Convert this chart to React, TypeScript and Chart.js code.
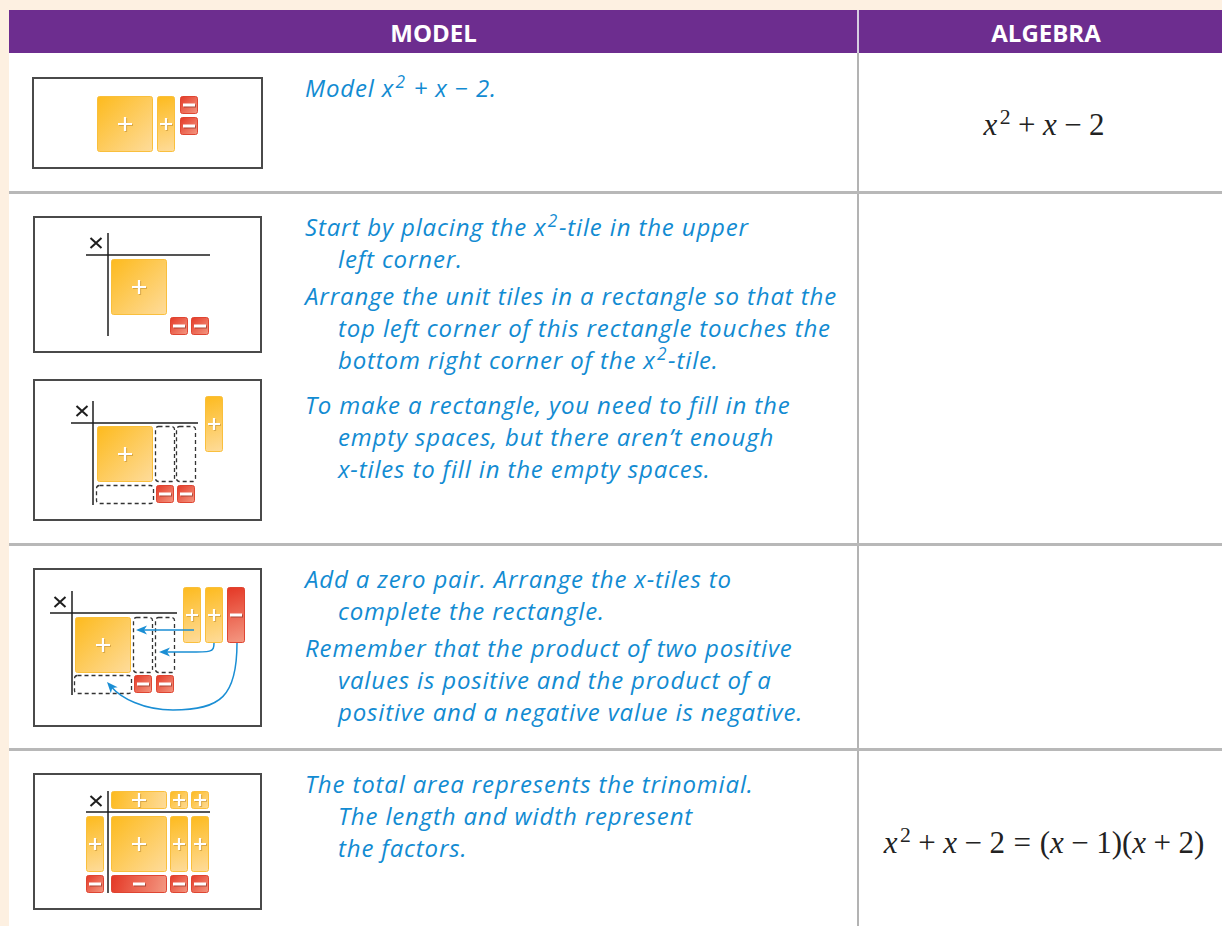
import React, { useEffect, useRef } from "react";
import { Chart, registerables } from "chart.js";

Chart.register(...registerables);

// ---------- DATA ----------
const COLUMN_HEADERS = ["MODEL", "ALGEBRA"];

const STEP_PARAGRAPHS: string[][] = [
  ["Model x^2 + x − 2."],
  ["Start by placing the x^2-tile in the upper", "left corner."],
  [
    "Arrange the unit tiles in a rectangle so that the",
    "top left corner of this rectangle touches the",
    "bottom right corner of the x^2-tile.",
  ],
  [
    "To make a rectangle, you need to fill in the",
    "empty spaces, but there aren’t enough",
    "x-tiles to fill in the empty spaces.",
  ],
  ["Add a zero pair. Arrange the x-tiles to", "complete the rectangle."],
  [
    "Remember that the product of two positive",
    "values is positive and the product of a",
    "positive and a negative value is negative.",
  ],
  [
    "The total area represents the trinomial.",
    "The length and width represent",
    "the factors.",
  ],
];

const ALGEBRA_ROW_1 = ["x", "^2", "+", "x", "−", "2"];
const ALGEBRA_ROW_4 = ["x", "^2", "+", "x", "−", "2", "=", "(", "x", "−", "1", ")", "(", "x", "+", "2", ")"];

// tiles: [kind, sign, left, top]  (kind: X2 = x², XV = vertical x, XH = horizontal x, U = unit)
type Tile = [string, number, number, number];
const MODEL_1_TILES: Tile[] = [["X2", 1, 65, 19], ["XV", 1, 125, 19], ["U", -1, 148, 19], ["U", -1, 148, 40]];
const MODEL_2_TILES: Tile[] = [["X2", 1, 78, 43], ["U", -1, 137, 101], ["U", -1, 158, 101]];
const MODEL_3_TILES: Tile[] = [["X2", 1, 64, 47], ["U", -1, 123, 106], ["U", -1, 144, 106], ["XV", 1, 172, 17]];
const MODEL_4_TILES: Tile[] = [
  ["X2", 1, 42, 49], ["U", -1, 101, 107], ["U", -1, 123, 107],
  ["XV", 1, 150, 19], ["XV", 1, 172, 19], ["XV", -1, 194, 19],
];
const MODEL_5_TILES: Tile[] = [
  ["XH", 1, 78, 18], ["U", 1, 137, 18], ["U", 1, 158, 18],
  ["XV", 1, 53, 43], ["X2", 1, 78, 43], ["XV", 1, 137, 43], ["XV", 1, 158, 43],
  ["U", -1, 53, 102], ["XH", -1, 78, 102], ["U", -1, 137, 102], ["U", -1, 158, 102],
];

// dashed empty slots: [kind, left, top]
type Slot = [string, number, number];
const MODEL_3_SLOTS: Slot[] = [["SV", 122, 47], ["SV", 143, 47], ["SH", 63, 106]];
const MODEL_4_SLOTS: Slot[] = [["SV", 100, 49], ["SV", 122, 49], ["SH", 41, 107]];

// product mat: [crossX, crossY, verticalX, vTop, vBottom, horizontalY, hLeft, hRight]
const MAT_2 = [63, 27, 75, 17, 120, 39, 53, 177];
const MAT_3 = [49, 32, 60, 22, 126, 44, 38, 165];
const MAT_4 = [27, 34, 39, 23, 127, 45, 17, 144];
const MAT_5 = [63, 28, 75, 18, 120, 39, 53, 177];

// arrows (point chains: 2 points = line, otherwise cubic bezier chain)
const MODEL_4_ARROWS: number[][][] = [
  [[161, 62], [103, 62]],
  [[181, 75], [181, 86], [178, 84], [126, 84]],
  [[204, 75], [204, 128], [188, 142], [140, 142], [110, 142], [88, 130], [74, 114]],
];

// ---------- LAYOUT / STYLE ----------
const TILE_SIZE: Record<string, [number, number]> = {
  X2: [56, 56], XV: [18, 56], XH: [56, 18], U: [18, 18], SV: [20, 56], SH: [58, 19],
};
const PARA_BASELINES = [97, 236, 305, 414, 588, 657, 793];
const LINE_STEP = 32;
const TEXT_LEFT = 305;
const TEXT_INDENT = 33;
const BLUE = "#128bd2";
const TEXT_SIZE = 24;

const BOXES = [
  { left: 32, top: 77, width: 231, height: 92, tiles: MODEL_1_TILES, slots: [] as Slot[], mat: null as number[] | null, arrows: [] as number[][][] },
  { left: 33, top: 216, width: 229, height: 137, tiles: MODEL_2_TILES, slots: [] as Slot[], mat: MAT_2, arrows: [] as number[][][] },
  { left: 33, top: 379, width: 229, height: 142, tiles: MODEL_3_TILES, slots: MODEL_3_SLOTS, mat: MAT_3, arrows: [] as number[][][] },
  { left: 33, top: 568, width: 229, height: 159, tiles: MODEL_4_TILES, slots: MODEL_4_SLOTS, mat: MAT_4, arrows: MODEL_4_ARROWS },
  { left: 33, top: 773, width: 229, height: 137, tiles: MODEL_5_TILES, slots: [] as Slot[], mat: MAT_5, arrows: [] as number[][][] },
];

type Box = (typeof BOXES)[number];

function makeTilePlugin(box: Box) {
  return {
    id: "algebraTiles",
    afterDatasetsDraw(chart: any) {
      const ctx: CanvasRenderingContext2D = chart.ctx;
      const sx = chart.scales.x;
      const sy = chart.scales.y;
      const px = (v: number) => sx.getPixelForValue(v);
      const py = (v: number) => sy.getPixelForValue(v);
      ctx.save();

      // frame
      ctx.strokeStyle = "#4a4a4a";
      ctx.lineWidth = 2;
      ctx.strokeRect(px(0) + 1, py(0) + 1, px(box.width) - px(0) - 2, py(box.height) - py(0) - 2);

      // product mat
      if (box.mat) {
        const [cx, cy, vx, vt, vb, hy, hl, hr] = box.mat;
        ctx.strokeStyle = "#1e1e1e";
        ctx.lineWidth = 1.5;
        ctx.beginPath();
        ctx.moveTo(px(vx), py(vt));
        ctx.lineTo(px(vx), py(vb));
        ctx.moveTo(px(hl), py(hy));
        ctx.lineTo(px(hr), py(hy));
        ctx.stroke();
        ctx.lineWidth = 2;
        ctx.beginPath();
        ctx.moveTo(px(cx - 5.5), py(cy - 5));
        ctx.lineTo(px(cx + 5.5), py(cy + 5));
        ctx.moveTo(px(cx + 5.5), py(cy - 5));
        ctx.lineTo(px(cx - 5.5), py(cy + 5));
        ctx.stroke();
      }

      // dashed slots
      for (const [kind, l, t] of box.slots) {
        const [w, h] = TILE_SIZE[kind];
        ctx.setLineDash([4, 3]);
        ctx.strokeStyle = "#333";
        ctx.lineWidth = 1.3;
        ctx.beginPath();
        ctx.roundRect(px(l) + 0.5, py(t) + 0.5, px(l + w) - px(l) - 1, py(t + h) - py(t) - 1, 3);
        ctx.stroke();
        ctx.setLineDash([]);
      }

      // tiles
      for (const [kind, sign, l, t] of box.tiles) {
        const [w, h] = TILE_SIZE[kind];
        const x0 = px(l), y0 = py(t), x1 = px(l + w), y1 = py(t + h);
        const g = ctx.createLinearGradient(x0, y0, x1, y1);
        if (sign > 0) {
          g.addColorStop(0, "#fdba1c");
          g.addColorStop(1, "#fedc9c");
        } else {
          g.addColorStop(0, "#e43624");
          g.addColorStop(1, "#f49a84");
        }
        ctx.beginPath();
        ctx.roundRect(x0 + 0.5, y0 + 0.5, x1 - x0 - 1, y1 - y0 - 1, 2);
        ctx.fillStyle = g;
        ctx.fill();
        ctx.lineWidth = 1;
        ctx.strokeStyle = sign > 0 ? "rgba(250,190,55,0.95)" : "rgba(222,64,44,0.95)";
        ctx.stroke();

        const cx = (x0 + x1) / 2;
        const cy = (y0 + y1) / 2;
        const drawSign = (dx: number, dy: number, color: string) => {
          ctx.strokeStyle = color;
          ctx.lineCap = "butt";
          if (sign > 0) {
            const a = kind === "X2" || kind === "XH" ? 7 : 6;
            ctx.lineWidth = 2.2;
            ctx.beginPath();
            ctx.moveTo(cx - a + dx, cy + dy);
            ctx.lineTo(cx + a + dx, cy + dy);
            ctx.moveTo(cx + dx, cy - a + dy);
            ctx.lineTo(cx + dx, cy + a + dy);
            ctx.stroke();
          } else {
            const a = 6;
            ctx.lineWidth = 3;
            ctx.beginPath();
            ctx.moveTo(cx - a + dx, cy + dy);
            ctx.lineTo(cx + a + dx, cy + dy);
            ctx.stroke();
          }
        };
        drawSign(1, 1, sign > 0 ? "rgba(150,100,20,0.35)" : "rgba(90,20,10,0.45)");
        drawSign(0, 0, "#ffffff");
      }

      // arrows
      for (const pts of box.arrows) {
        const P = pts.map(([a, b]) => [px(a), py(b)]);
        const end = P[P.length - 1];
        const prev = P[P.length - 2];
        let dx = end[0] - prev[0], dy = end[1] - prev[1];
        const len = Math.hypot(dx, dy) || 1;
        dx /= len; dy /= len;
        ctx.strokeStyle = "#1a8ed4";
        ctx.fillStyle = "#1a8ed4";
        ctx.lineWidth = 1.5;
        ctx.beginPath();
        ctx.moveTo(P[0][0], P[0][1]);
        if (P.length === 2) {
          ctx.lineTo(end[0] - dx * 6, end[1] - dy * 6);
        } else {
          for (let i = 1; i + 2 < P.length; i += 3) {
            const last = i + 2 === P.length - 1;
            const e = last ? [P[i + 2][0] - dx * 6, P[i + 2][1] - dy * 6] : P[i + 2];
            ctx.bezierCurveTo(P[i][0], P[i][1], P[i + 1][0], P[i + 1][1], e[0], e[1]);
          }
        }
        ctx.stroke();
        const nx = -dy, ny = dx;
        ctx.beginPath();
        ctx.moveTo(end[0], end[1]);
        ctx.lineTo(end[0] - dx * 11 + nx * 4.5, end[1] - dy * 11 + ny * 4.5);
        ctx.lineTo(end[0] - dx * 8, end[1] - dy * 8);
        ctx.lineTo(end[0] - dx * 11 - nx * 4.5, end[1] - dy * 11 - ny * 4.5);
        ctx.closePath();
        ctx.fill();
      }
      ctx.restore();
    },
  };
}

function TileChart({ box }: { box: Box }) {
  const ref = useRef<HTMLCanvasElement>(null);
  useEffect(() => {
    if (!ref.current) return;
    const chart = new Chart(ref.current, {
      type: "scatter",
      data: {
        datasets: [
          {
            data: box.tiles.map(([kind, , l, t]) => ({ x: l + TILE_SIZE[kind][0] / 2, y: t + TILE_SIZE[kind][1] / 2 })),
            pointRadius: 0,
          },
        ],
      },
      options: {
        animation: false,
        responsive: false,
        events: [],
        layout: { padding: 0 },
        scales: {
          x: { type: "linear", display: false, min: 0, max: box.width },
          y: { type: "linear", display: false, min: 0, max: box.height, reverse: true },
        },
        plugins: { legend: { display: false }, tooltip: { enabled: false } },
      },
      plugins: [makeTilePlugin(box)],
    } as any);
    return () => chart.destroy();
  }, [box]);
  return (
    <canvas
      ref={ref}
      width={box.width}
      height={box.height}
      style={{ position: "absolute", left: box.left, top: box.top, width: box.width, height: box.height }}
    />
  );
}

function renderRich(text: string) {
  const parts = text.split("^2");
  const out: React.ReactNode[] = [];
  parts.forEach((p, i) => {
    out.push(<span key={"t" + i}>{p}</span>);
    if (i < parts.length - 1)
      out.push(
        <span key={"s" + i} style={{ fontSize: "0.72em", position: "relative", top: "-0.5em", lineHeight: 0, marginLeft: "0.08em", marginRight: "0.04em" }}>
          2
        </span>
      );
  });
  return out;
}

function renderMath(tokens: string[]) {
  return tokens.map((t, i) => {
    if (t === "x") return <span key={i} style={{ fontStyle: "italic" }}>x</span>;
    if (t === "^2")
      return (
        <span key={i} style={{ fontSize: "0.7em", position: "relative", top: "-0.5em", marginLeft: "0.12em", lineHeight: 0 }}>
          2
        </span>
      );
    if (t === "+" || t === "−") return <span key={i} style={{ margin: "0 0.24em" }}>{t}</span>;
    if (t === "=") return <span key={i} style={{ margin: "0 0.28em" }}>{t}</span>;
    return <span key={i}>{t}</span>;
  });
}

export default function App() {
  const textFont = "'Open Sans', 'Noto Sans', sans-serif";
  const mathFont = "'Liberation Serif', 'DejaVu Serif', serif";
  const rowLines = [191, 543, 748];
  return (
    <div style={{ position: "fixed", left: 0, top: 0, width: 1222, height: 926, background: "#ffffff", overflow: "hidden" }}>
      <div style={{ position: "absolute", left: 0, top: 0, width: 1222, height: 10, background: "#fdf0e1" }} />
      <div style={{ position: "absolute", left: 0, top: 0, width: 9, height: 926, background: "#fdf0e1" }} />
      <div style={{ position: "absolute", left: 9, top: 10, width: 1213, height: 43, background: "#6d2d8f" }} />
      <div style={{ position: "absolute", left: 857, top: 10, width: 2, height: 43, background: "#d6cde0" }} />
      <div style={{ position: "absolute", left: 857, top: 53, width: 2, height: 873, background: "#b3b3b3" }} />
      {rowLines.map((y) => (
        <div key={y} style={{ position: "absolute", left: 9, top: y, width: 1213, height: 3, background: "#b8b8b8" }} />
      ))}
      <div
        style={{
          position: "absolute", left: 9, top: 11, width: 849, height: 43, lineHeight: "43px",
          textAlign: "center", color: "#fff", fontFamily: textFont, fontWeight: 700, fontSize: 24,
        }}
      >
        {COLUMN_HEADERS[0]}
      </div>
      <div
        style={{
          position: "absolute", left: 870, top: 11, width: 352, height: 43, lineHeight: "43px",
          textAlign: "center", color: "#fff", fontFamily: textFont, fontWeight: 700, fontSize: 24,
        }}
      >
        {COLUMN_HEADERS[1]}
      </div>

      {STEP_PARAGRAPHS.map((para, pi) =>
        para.map((line, li) => (
          <div
            key={pi + "-" + li}
            style={{
              position: "absolute",
              left: TEXT_LEFT + (li > 0 ? TEXT_INDENT : 0),
              top: PARA_BASELINES[pi] + li * LINE_STEP - 24,
              height: 30,
              lineHeight: "30px",
              whiteSpace: "nowrap",
              fontFamily: textFont,
              fontStyle: "italic",
              fontSize: TEXT_SIZE,
              letterSpacing: "0.85px",
              color: BLUE,
            }}
          >
            {renderRich(line)}
          </div>
        ))
      )}

      <div
        style={{
          position: "absolute", left: 870, top: 105, width: 348, height: 40, lineHeight: "40px",
          textAlign: "center", whiteSpace: "nowrap", fontFamily: mathFont, fontSize: 31, color: "#222",
        }}
      >
        {renderMath(ALGEBRA_ROW_1)}
      </div>
      <div
        style={{
          position: "absolute", left: 866, top: 823, width: 356, height: 40, lineHeight: "40px",
          textAlign: "center", whiteSpace: "nowrap", fontFamily: mathFont, fontSize: 31, color: "#222",
        }}
      >
        {renderMath(ALGEBRA_ROW_4)}
      </div>

      {BOXES.map((b, i) => (
        <TileChart key={i} box={b} />
      ))}
    </div>
  );
}
